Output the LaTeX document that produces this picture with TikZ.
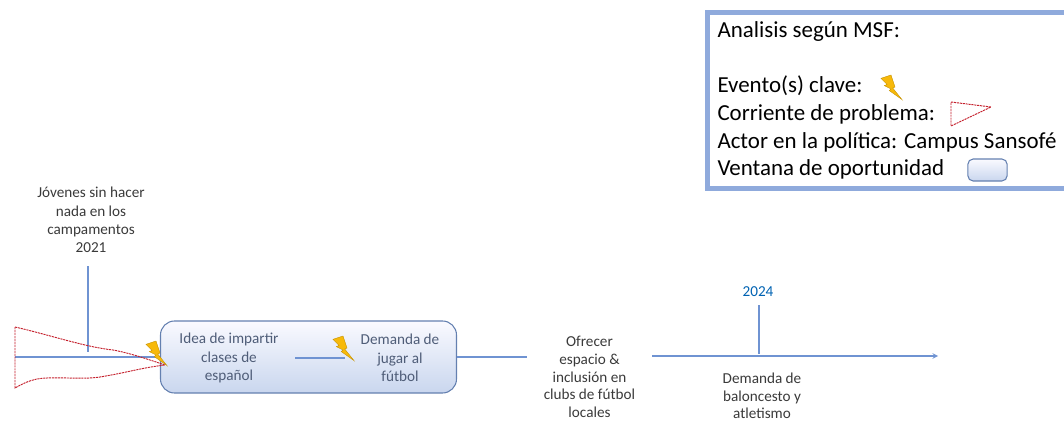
\documentclass[tikz,border=0pt]{standalone}
\usepackage{fontspec}
\setmainfont{Carlito}
\usepackage{xcolor}
\usetikzlibrary{shapes,arrows,positioning}
\definecolor{linea}{HTML}{6F93D2}
\definecolor{marcoazul}{HTML}{8FAADC}
\definecolor{borde}{HTML}{6480B0}
\definecolor{rojo}{HTML}{C4202C}
\definecolor{oro}{HTML}{F7B90A}
\definecolor{texto}{HTML}{3A3A3A}
\definecolor{pizarra}{HTML}{4F5D78}

\begin{document}
\begin{tikzpicture}[x=0.75pt, y=-0.75pt,
    conector/.style={draw=linea, line width=0.8pt},
    texbase/.style={align=center, inner sep=0pt, text=texto, font=\fontsize{11.4}{13.8}\selectfont},
    texcaja/.style={texbase, text=pizarra},
    ventana/.style={draw=borde, line width=0.8pt, rounded corners=10.5pt, top color=blue!2, bottom color=marcoazul!48},
    problema/.style={draw=rojo, dash pattern=on 1.6pt off 0.6pt, line width=0.7pt},
    rayo/.pic={
        \draw[draw=oro!80!black, line width=0.3pt, fill=oro] (0,3.3) -- (10,0) -- (14,12) -- (11.7,13) -- (21,24.6) -- (8.3,15.6) -- (10,14) -- (3.3,10.6) -- (6,9.5) -- cycle;
    }]
    \useasboundingbox (0,0) rectangle (1064,421);

    % linea de tiempo
    \node[ventana, minimum width=222pt, minimum height=54pt] (ventana) at (308.5,357) {};
    \node[texcaja, minimum width=99pt] (idea) at (229,358) {Idea de impartir\\clases de\\español};
    \node[texcaja, minimum width=82.5pt] (demanda) at (400,358) {Demanda de\\jugar al\\fútbol};
    \node[texbase] (jovenes) at (91,220) {Jóvenes sin hacer\\nada en los\\campamentos\\2021};
    \node[texbase, minimum width=93.75pt, font=\fontsize{11.4}{13.3}\selectfont] (ofrecer) at (589.5,377) {Ofrecer\\espacio \&\\inclusión en\\clubs de fútbol\\locales};
    \node[texbase, font=\fontsize{11.4}{13.1}\selectfont] (baloncesto) at (762,396) {Demanda de\\baloncesto y\\atletismo};
    \node[texbase, text=blue!45!cyan!70!black] (anio) at (758,292) {2024};

    \coordinate (inicio) at (15,357);
    \coordinate (fin) at (938,356);
    \coordinate (cruce) at (88,352);
    \coordinate (marca) at (759,354);
    \coordinate (arriba) at (88,266);
    \coordinate (tope) at (759,305);

    \draw[conector] (inicio) -- (ventana.west);
    \draw[conector] (arriba) -- (cruce);
    \draw[conector] (idea.east) -- (demanda.west);
    \draw[conector] (ventana.east) -- (ventana.east -| ofrecer.west);
    \draw[conector, -stealth] (fin -| ofrecer.east) -- (fin);
    \draw[conector] (tope) -- (marca);

    % corriente de problema y eventos
    \draw[problema] (15,327) .. controls (50,335) and (85,347) .. (113,350) .. controls (130,353) and (150,360) .. (165,365) .. controls (140,368) and (130,372) .. (100,377) .. controls (80,380) and (55,376) .. (37,379) .. controls (28,381) and (22,384) .. (15,388) -- cycle;
    \pic at (146,341) {rayo};
    \pic at (333,336) {rayo};

    % leyenda
    \node[draw=marcoazul, line width=3.75pt, text width=270pt, inner xsep=7.5pt, inner ysep=0pt, minimum height=132pt, anchor=north west, align=flush left, text=black, font=\fontsize{17.2}{20.8}\selectfont] (marco) at (705,10) {Analisis según MSF:\\[20.8pt]Evento(s) clave:\\Corriente de problema:\\Actor en la política: Campus Sansofé\\Ventana de oportunidad};
    \pic at (881,75) {rayo};
    \draw[problema] (951,102) -- (991,107) -- (951,126) -- cycle;
    \node[ventana, rounded corners=4pt, minimum width=29.5pt, minimum height=16.5pt] (muestra) at (987.5,170) {};
\end{tikzpicture}
\end{document}
